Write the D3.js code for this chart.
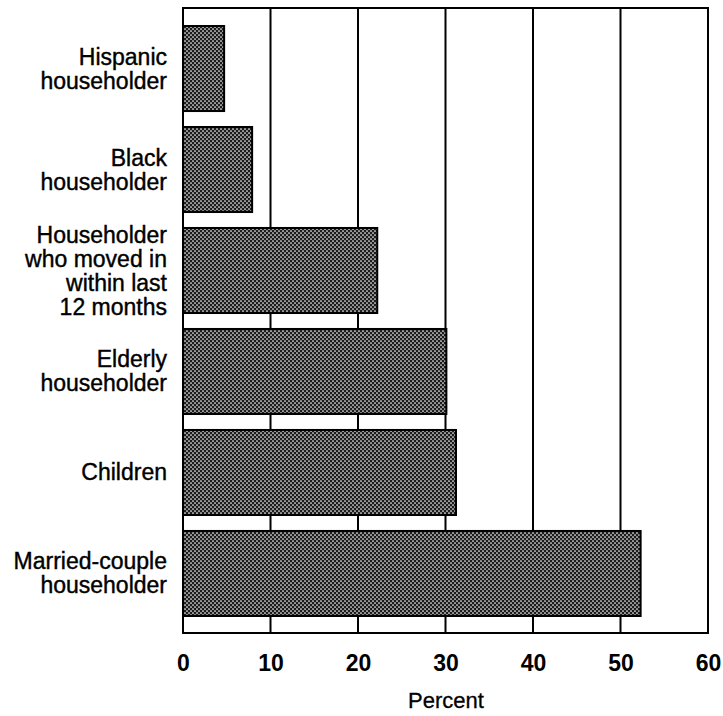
<!DOCTYPE html>
<meta charset="utf-8">

<style>
body { margin: 0; background: #fff; }
svg text { font-family: "Liberation Sans", Arial, sans-serif; fill: #000; }
</style>

<body>

<script src="https://d3js.org/d3.v7.min.js"></script>

<script>

// data
var categories = [
  ["Hispanic", "householder"],
  ["Black", "householder"],
  ["Householder", "who moved in", "within last", "12 months"],
  ["Elderly", "householder"],
  ["Children"],
  ["Married-couple", "householder"]
];
var values = [4.7, 7.9, 22.2, 30.1, 31.2, 52.3];
var ticks = [0, 10, 20, 30, 40, 50, 60];

var width = 723, height = 716;

var svg = d3.select("body")
  .append("svg")
    .attr("width", width)
    .attr("height", height);

// halftone fill for the bars
var pat = svg.append("defs").append("pattern")
    .attr("id", "dots")
    .attr("patternUnits", "userSpaceOnUse")
    .attr("width", 4)
    .attr("height", 4);
pat.append("rect").attr("width", 4).attr("height", 4).attr("fill", "#1c1c1c");
pat.append("circle").attr("cx", 1).attr("cy", 1).attr("r", 0.85).attr("fill", "#fff");
pat.append("circle").attr("cx", 3).attr("cy", 3).attr("r", 0.85).attr("fill", "#fff");

var x = d3.scaleLinear()
    .domain([0, 60])
    .range([183, 708]);

var y = d3.scaleBand()
    .domain(d3.range(categories.length))
    .range([26, 616])
    .paddingInner(0.158);

var plotTop = 8, plotBottom = 633;

// vertical grid lines
svg.append("g")
  .selectAll("line")
  .data(ticks.slice(1, -1))
  .enter().append("line")
    .attr("x1", d => x(d))
    .attr("x2", d => x(d))
    .attr("y1", plotTop)
    .attr("y2", plotBottom)
    .attr("stroke", "#000")
    .attr("stroke-width", 2);

// bars
svg.append("g")
  .selectAll("rect")
  .data(values)
  .enter().append("rect")
    .attr("x", x(0))
    .attr("y", (d, i) => y(i))
    .attr("width", d => x(d) - x(0))
    .attr("height", y.bandwidth())
    .attr("fill", "url(#dots)")
    .attr("stroke", "#000")
    .attr("stroke-width", 2);

// frame
svg.append("rect")
    .attr("x", x(0))
    .attr("y", plotTop)
    .attr("width", x(60) - x(0))
    .attr("height", plotBottom - plotTop)
    .attr("fill", "none")
    .attr("stroke", "#000")
    .attr("stroke-width", 2);

// category labels
var lh = 24;
var lab = svg.append("g")
  .selectAll("text")
  .data(categories)
  .enter().append("text")
    .attr("text-anchor", "end")
    .attr("font-size", 23)
    .attr("stroke", "#000")
    .attr("stroke-width", 0.4)
    .attr("x", 167)
    .attr("y", (d, i) => y(i) + y.bandwidth() / 2 - (d.length - 1) * lh / 2 + 8);

lab.selectAll("tspan")
  .data(d => d)
  .enter().append("tspan")
    .attr("x", 167)
    .attr("dy", (d, i) => i ? lh : 0)
    .text(d => d);

// x axis
var xAxis = svg.append("g")
    .attr("transform", "translate(0," + plotBottom + ")")
    .call(d3.axisBottom(x).tickValues(ticks).tickSize(0).tickPadding(22).tickFormat(d3.format("d")));
xAxis.select(".domain").remove();
xAxis.selectAll("text")
    .attr("font-size", 23)
    .attr("font-weight", "bold")
    .attr("font-family", "Liberation Sans, Arial, sans-serif");

svg.append("text")
    .attr("x", 446)
    .attr("y", 708)
    .attr("text-anchor", "middle")
    .attr("font-size", 22)
    .attr("stroke", "#000")
    .attr("stroke-width", 0.3)
    .text("Percent");

</script>
</body>
</html>
